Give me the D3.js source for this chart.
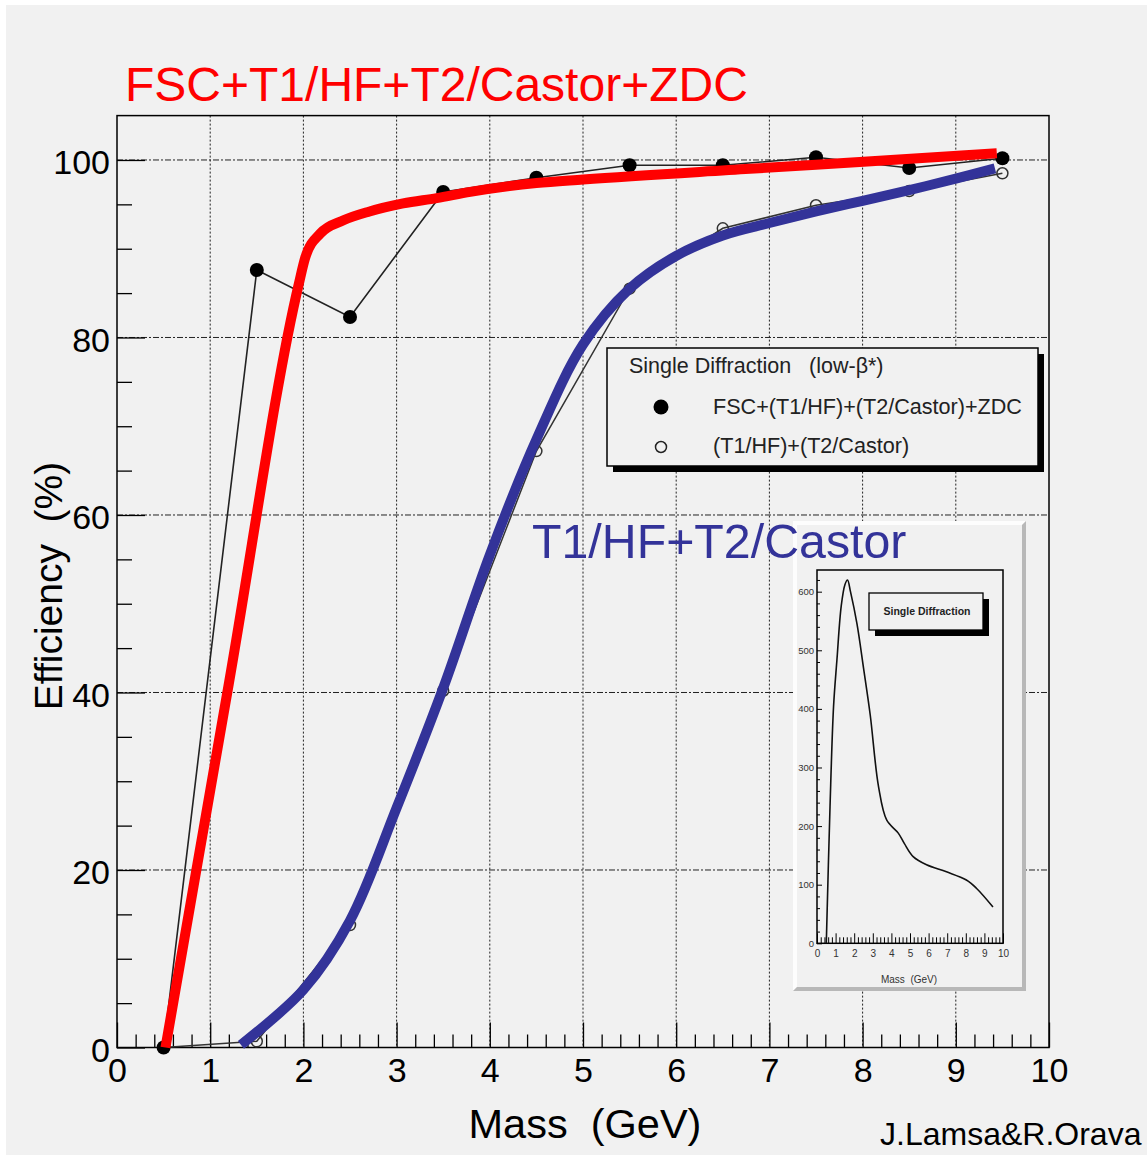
<!DOCTYPE html>
<html><head><meta charset="utf-8">
<script src="https://cdn.jsdelivr.net/npm/d3@7"></script>
<style>
html,body{margin:0;padding:0;background:#fff;}
svg{display:block;font-family:"Liberation Sans",Arial,Helvetica,sans-serif;}
text{white-space:pre;}
</style>
</head><body>
<svg id="c" width="1147" height="1155"></svg>
<script>
// ---------------- data ----------------
const massBins = [0.5, 1.5, 2.5, 3.5, 4.5, 5.5, 6.5, 7.5, 8.5, 9.5];
const effAll   = [0, 87.6, 82.3, 96.4, 98.0, 99.4, 99.4, 100.3, 99.1, 100.2];   // FSC+(T1/HF)+(T2/Castor)+ZDC
const effT1T2  = [0, 0.7, 13.8, 40.2, 67.2, 85.5, 92.3, 94.9, 96.5, 98.5];      // (T1/HF)+(T2/Castor)

// hand-drawn guide curves
const redCurveX = [0.52, 1.2, 1.95, 2.02, 2.18, 2.43, 2.71, 3.07, 3.43, 3.79, 4.5, 5.0, 6.79, 8.01, 9.44];
const redCurveY = [0, 41, 86, 89, 91.7, 93.2, 94.2, 95.1, 95.7, 96.4, 97.4, 97.8, 99.0, 99.8, 100.75];
const blueCurveX = [1.33, 2.0, 2.5, 3.0, 3.5, 4.0, 4.5, 5.0, 5.5, 6.0, 6.5, 7.0, 7.5, 8.0, 8.5, 9.0, 9.42];
const blueCurveY = [0.3, 6.5, 14.3, 27, 40.5, 55.5, 68.5, 79.2, 85.5, 89.2, 91.5, 92.9, 94.2, 95.4, 96.6, 97.9, 99.05];

// inset: mass distribution of single diffraction
const insetMass   = [0.5, 0.7, 0.89, 1.07, 1.3, 1.5, 1.64, 1.8, 2.15, 2.5, 2.86, 3.31, 3.75, 4.37, 4.7, 5.17, 5.89, 6.96, 8.03, 8.57, 9.46];
const insetCounts = [0, 233, 404, 483, 575, 612, 620, 600, 545, 470, 390, 267, 210, 188, 170, 148, 134, 122, 108, 94, 62];

// ticks / labels
const xTicks = [0, 1, 2, 3, 4, 5, 6, 7, 8, 9, 10];
const yTicks = [0, 20, 40, 60, 80, 100];
const insetYTicks = [0, 100, 200, 300, 400, 500, 600];
const legendTitle = "Single Diffraction   (low-\u03b2*)";
const legendLabels = ["FSC+(T1/HF)+(T2/Castor)+ZDC", "(T1/HF)+(T2/Castor)"];
const titleText = "FSC+T1/HF+T2/Castor+ZDC";
const blueText = "T1/HF+T2/Castor";
const xTitle = "Mass  (GeV)";
const yTitle = "Efficiency  (%)";
const creditText = "J.Lamsa&R.Orava";
const insetLegend = "Single Diffraction";

// ---------------- drawing ----------------
const RED = "#ff0000", BLUE = "#333399", BG = "#f1f1f1";
const svg = d3.select("#c");
svg.append("rect").attr("x", 6).attr("y", 5).attr("width", 1141).attr("height", 1150).attr("fill", BG);

const x = d3.scaleLinear().domain([0, 10]).range([117, 1049]);
const y = d3.scaleLinear().domain([0, 105]).range([1047.5, 115.6]);

// grid
const grid = svg.append("g").attr("stroke", "#222").attr("stroke-width", 1);
grid.selectAll("line.v").data(xTicks.slice(1, -1)).join("line")
  .attr("x1", d => x(d)).attr("x2", d => x(d)).attr("y1", y(105)).attr("y2", y(0))
  .attr("stroke-dasharray", "2,2");
grid.selectAll("line.h").data(yTicks.slice(1)).join("line")
  .attr("x1", x(0)).attr("x2", x(10)).attr("y1", d => y(d)).attr("y2", d => y(d))
  .attr("stroke-dasharray", "6,2,2,2");

function styleAxis(g, size) {
  g.select(".domain").remove();
  g.attr("font-family", null).attr("font-size", size).attr("color", "#000");
  g.selectAll("line").attr("stroke-width", 1.3);
  g.selectAll("text").attr("fill", "#000");
}

// x axis
const xMinor = d3.range(0, 50).filter(i => i % 5 !== 0).map(i => i / 5);
svg.append("g").attr("transform", `translate(0,${y(0)})`)
  .call(d3.axisBottom(x).tickValues(xMinor).tickSize(-13).tickSizeOuter(0).tickFormat(""))
  .call(g => styleAxis(g, 34));
svg.append("g").attr("transform", `translate(0,${y(0)})`)
  .call(d3.axisBottom(x).tickValues(xTicks).tickSize(-25).tickSizeOuter(0).tickPadding(10).tickFormat(d3.format("d")))
  .call(g => styleAxis(g, 34));

// y axis
const yMinor = d3.range(0, 21).filter(i => i % 4 !== 0).map(i => i * 5);
svg.append("g").attr("transform", `translate(${x(0)},0)`)
  .call(d3.axisLeft(y).tickValues(yMinor).tickSize(-15).tickSizeOuter(0).tickFormat(""))
  .call(g => styleAxis(g, 34));
svg.append("g").attr("transform", `translate(${x(0)},0)`)
  .call(d3.axisLeft(y).tickValues(yTicks).tickSize(-28).tickSizeOuter(0).tickPadding(7).tickFormat(d3.format("d")))
  .call(g => { styleAxis(g, 34); g.selectAll("text").attr("dy", "0.4em"); });

// frame
svg.append("rect").attr("x", x(0)).attr("y", y(105)).attr("width", x(10) - x(0)).attr("height", y(0) - y(105))
  .attr("fill", "none").attr("stroke", "#000").attr("stroke-width", 1.5);

// thin data lines + markers
const straight = d3.line().x(d => x(d[0])).y(d => y(d[1]));
const ptsAll = d3.zip(massBins, effAll);
const ptsT = d3.zip(massBins, effT1T2);
svg.append("path").datum(ptsT).attr("d", straight).attr("fill", "none").attr("stroke", "#333").attr("stroke-width", 1.5);
svg.append("path").datum(ptsAll).attr("d", straight).attr("fill", "none").attr("stroke", "#222").attr("stroke-width", 1.6);
svg.append("g").selectAll("circle").data(ptsT).join("circle")
  .attr("cx", d => x(d[0])).attr("cy", d => y(d[1])).attr("r", 5.5)
  .attr("fill", "none").attr("stroke", "#333").attr("stroke-width", 1.5);
svg.append("g").selectAll("circle").data(ptsAll).join("circle")
  .attr("cx", d => x(d[0])).attr("cy", d => y(d[1])).attr("r", 7).attr("fill", "#000");

// thick guide curves
const smoothRed = d3.line().curve(d3.curveMonotoneX).x(d => x(d[0])).y(d => y(d[1]));
const smoothBlue = d3.line().curve(d3.curveCatmullRom.alpha(0.5)).x(d => x(d[0])).y(d => y(d[1]));
svg.append("path").datum(d3.zip(redCurveX, redCurveY)).attr("d", smoothRed)
  .attr("fill", "none").attr("stroke", RED).attr("stroke-width", 10).attr("stroke-linejoin", "round");
svg.append("path").datum(d3.zip(blueCurveX, blueCurveY)).attr("d", smoothBlue)
  .attr("fill", "none").attr("stroke", BLUE).attr("stroke-width", 10).attr("stroke-linejoin", "round");

// legend
const lg = svg.append("g");
lg.append("rect").attr("x", 613).attr("y", 354).attr("width", 431).attr("height", 118).attr("fill", "#000");
lg.append("rect").attr("x", 607).attr("y", 348).attr("width", 431).attr("height", 118)
  .attr("fill", BG).attr("stroke", "#000").attr("stroke-width", 1.5);
lg.append("text").attr("x", 629).attr("y", 373).attr("font-size", 21.5).attr("fill", "#222").text(legendTitle);
lg.append("circle").attr("cx", 661).attr("cy", 407).attr("r", 7.5).attr("fill", "#000");
lg.append("circle").attr("cx", 661).attr("cy", 447).attr("r", 5.5).attr("fill", "none").attr("stroke", "#222").attr("stroke-width", 1.5);
lg.selectAll("text.e").data(legendLabels).join("text").attr("class", "e")
  .attr("x", 713).attr("y", (d, i) => 414 + i * 39).attr("font-size", 21.6).attr("fill", "#222").text(d => d);

// titles
svg.append("text").attr("x", 125).attr("y", 101).attr("font-size", 48).attr("fill", RED).text(titleText);
svg.append("text").attr("x", 585).attr("y", 1138).attr("text-anchor", "middle").attr("font-size", 41.5).attr("fill", "#000").text(xTitle);
svg.append("text").attr("transform", "translate(62,586) rotate(-90)").attr("text-anchor", "middle")
  .attr("font-size", 39).attr("fill", "#000").text(yTitle);
svg.append("text").attr("x", 880).attr("y", 1145).attr("font-size", 32).attr("fill", "#000").text(creditText);

// ---------------- inset ----------------
const inset = svg.append("g");
const ox0 = 793, oy0 = 521, ox1 = 1026, oy1 = 991, bw = 4;
inset.append("rect").attr("x", ox0).attr("y", oy0).attr("width", ox1 - ox0).attr("height", oy1 - oy0).attr("fill", BG);
inset.append("polygon").attr("points", `${ox0},${oy0} ${ox1},${oy0} ${ox1 - bw},${oy0 + bw} ${ox0 + bw},${oy0 + bw} ${ox0 + bw},${oy1 - bw} ${ox0},${oy1}`).attr("fill", "#fdfdfd");
inset.append("polygon").attr("points", `${ox1},${oy0} ${ox1},${oy1} ${ox0},${oy1} ${ox0 + bw},${oy1 - bw} ${ox1 - bw},${oy1 - bw} ${ox1 - bw},${oy0 + bw}`).attr("fill", "#b8b8b8");

const ix = d3.scaleLinear().domain([0, 10]).range([817, 1003]);
const iy = d3.scaleLinear().domain([0, 637]).range([943.3, 570]);

const ixMinor = d3.range(0, 50).filter(i => i % 5 !== 0).map(i => i / 5);
inset.append("g").attr("transform", `translate(0,${iy(0)})`)
  .call(d3.axisBottom(ix).tickValues(ixMinor).tickSize(-6).tickSizeOuter(0).tickFormat(""))
  .call(g => { styleAxis(g, 10); g.selectAll("line").attr("stroke-width", 1); });
inset.append("g").attr("transform", `translate(0,${iy(0)})`)
  .call(d3.axisBottom(ix).tickValues(xTicks).tickSize(-10).tickSizeOuter(0).tickPadding(7).tickFormat(d3.format("d")))
  .call(g => { styleAxis(g, 10); g.selectAll("line").attr("stroke-width", 1); g.selectAll("text").attr("fill", "#333"); });
const iyMinor = d3.range(0, 32).filter(i => i % 5 !== 0).map(i => i * 20);
inset.append("g").attr("transform", `translate(${ix(0)},0)`)
  .call(d3.axisLeft(iy).tickValues(iyMinor).tickSize(-3).tickSizeOuter(0).tickFormat(""))
  .call(g => { styleAxis(g, 9.5); g.selectAll("line").attr("stroke-width", 1); });
inset.append("g").attr("transform", `translate(${ix(0)},0)`)
  .call(d3.axisLeft(iy).tickValues(insetYTicks).tickSize(-5).tickSizeOuter(0).tickPadding(3).tickFormat(d3.format("d")))
  .call(g => { styleAxis(g, 9.5); g.selectAll("line").attr("stroke-width", 1); g.selectAll("text").attr("fill", "#333"); });

inset.append("rect").attr("x", ix(0)).attr("y", iy(637)).attr("width", ix(10) - ix(0)).attr("height", iy(0) - iy(637))
  .attr("fill", "none").attr("stroke", "#000").attr("stroke-width", 1.5);

const iline = d3.line().curve(d3.curveCatmullRom).x(d => ix(d[0])).y(d => iy(d[1]));
inset.append("path").datum(d3.zip(insetMass, insetCounts)).attr("d", iline)
  .attr("fill", "none").attr("stroke", "#111").attr("stroke-width", 1.6);

inset.append("rect").attr("x", 875).attr("y", 599).attr("width", 114).attr("height", 37).attr("fill", "#000");
inset.append("rect").attr("x", 869).attr("y", 593).attr("width", 114).attr("height", 37)
  .attr("fill", BG).attr("stroke", "#000").attr("stroke-width", 1.3);
inset.append("text").attr("x", 927).attr("y", 615).attr("text-anchor", "middle").attr("font-size", 10.5)
  .attr("fill", "#222").attr("font-weight", "bold").text(insetLegend);
inset.append("text").attr("x", 909).attr("y", 983).attr("text-anchor", "middle").attr("font-size", 10)
  .attr("fill", "#333").text(xTitle);

// blue label drawn on top of the inset
svg.append("text").attr("x", 532).attr("y", 558).attr("font-size", 48.3).attr("fill", BLUE).text(blueText);
</script>
</body></html>
